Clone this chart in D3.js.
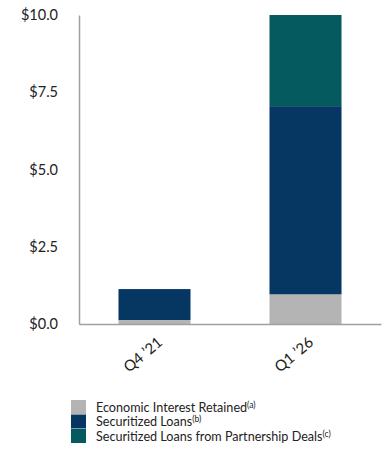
<!DOCTYPE html>
<html>
<head>
<meta charset="utf-8">
<script src="https://cdn.jsdelivr.net/npm/d3@7"></script>
<style>
  body { margin: 0; background: #fff; }
  text { font-family: Lato, "Open Sans", sans-serif; fill: #222; }
</style>
</head>
<body>
<script>
const quarters = ['Q4 \u201921', 'Q1 \u201926'];
const retained = [0.13, 0.96];
const securitized = [1.0, 6.09];
const partnership = [0, 2.95];
const yTicks = [0, 2.5, 5, 7.5, 10];
const seriesNames = ['Economic Interest Retained', 'Securitized Loans', 'Securitized Loans from Partnership Deals'];
const seriesNotes = ['(a)', '(b)', '(c)'];
const colors = ['#b4b4b4', '#063763', '#045a5f'];

const svgSize = {width: 388, height: 452};
const plot = {left: 79, right: 381, top: 15, bottom: 324};

const svg = d3.select('body').append('svg')
	.attr('width', svgSize.width)
	.attr('height', svgSize.height);

const x = d3.scaleBand().domain(quarters).range([plot.left, plot.right]).paddingInner(0.523).paddingOuter(0.2615);
const y = d3.scaleLinear().domain([0, 10]).range([plot.bottom, plot.top]);

const rows = quarters.map((q, i) => ({q, retained: retained[i], securitized: securitized[i], partnership: partnership[i]}));
const stack = d3.stack().keys(['retained', 'securitized', 'partnership'])(rows);

svg.append('g').selectAll('g')
	.data(stack)
	.enter()
	.append('g')
	.attr('fill', (d, i) => colors[i])
	.selectAll('rect')
	.data(d => d)
	.enter()
	.append('rect')
	.attr('x', d => x(d.data.q))
	.attr('width', x.bandwidth())
	.attr('y', d => y(d[1]))
	.attr('height', d => y(d[0]) - y(d[1]));

// axes
const yAxis = svg.append('g')
	.attr('transform', `translate(${plot.left},0)`)
	.call(d3.axisLeft(y).tickValues(yTicks).tickSize(0).tickPadding(21).tickFormat(d => '$' + d3.format('.1f')(d)));
yAxis.select('.domain').attr('stroke', '#a0a0a0').attr('stroke-width', 1.5);
yAxis.selectAll('text').style('font-size', '14.5px').attr('fill', '#222');

const xAxis = svg.append('g')
	.attr('transform', `translate(0,${plot.bottom})`)
	.call(d3.axisBottom(x).tickSize(0).tickFormat(''));
xAxis.select('.domain').attr('stroke', '#a0a0a0').attr('stroke-width', 1.5);

svg.append('g').selectAll('text')
	.data(quarters)
	.enter()
	.append('text')
	.attr('transform', d => `translate(${x(d) + x.bandwidth() / 2 + 9},${plot.bottom + 20}) rotate(-40)`)
	.attr('text-anchor', 'end')
	.style('font-size', '15px')
	.text(d => d);

// legend
const legend = svg.append('g').attr('transform', 'translate(71,400)');
const item = legend.selectAll('g')
	.data(seriesNames)
	.enter()
	.append('g')
	.attr('transform', (d, i) => `translate(0,${i * 14.5})`);
item.append('rect')
	.attr('width', 15)
	.attr('height', 14)
	.attr('fill', (d, i) => colors[i]);
const label = item.append('text')
	.attr('x', 25)
	.attr('y', 11.5)
	.style('font-size', '12.6px');
label.append('tspan').text(d => d);
label.append('tspan')
	.attr('dy', -4)
	.style('font-size', '8.5px')
	.text((d, i) => seriesNotes[i]);
</script>
</body>
</html>
